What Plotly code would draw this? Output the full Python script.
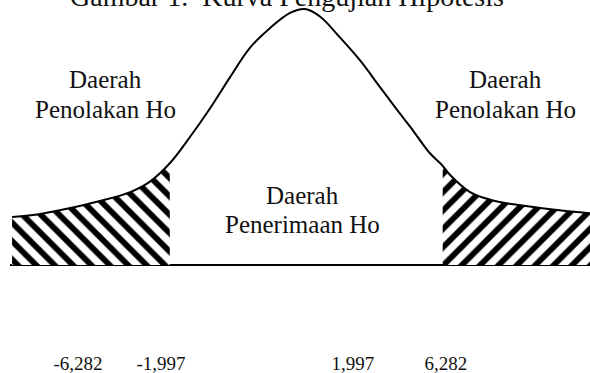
import plotly.graph_objects as go

# bell curve (x in std units, y as density)
curve_x = [-4.04, -3.75, -3.28, -2.82, -2.40, -2.13, -1.85, -1.57, -1.29, -1.01,
           -0.74, -0.46, -0.18, 0.03, 0.24, 0.51, 0.79, 1.07, 1.35, 1.49,
           1.76, 1.94, 2.04, 2.32, 2.60, 2.97, 3.53, 3.99]
curve_y = [0.075, 0.078, 0.088, 0.100, 0.114, 0.130, 0.159, 0.200, 0.245, 0.294,
           0.339, 0.370, 0.394, 0.400, 0.388, 0.356, 0.320, 0.278, 0.236, 0.216,
           0.175, 0.155, 0.141, 0.114, 0.102, 0.094, 0.086, 0.081]

left_cut = -1.85
right_cut = 1.94

tick_pos = [-3.125, -1.972, 0.694, 1.986]
tick_text = ["-6,282", "-1,997", "1,997", "6,282"]

TITLE = "Gambar 1.  Kurva Pengujian Hipotesis"
FONT = "Liberation Serif"


def main() -> None:
    left = [(x, y) for x, y in zip(curve_x, curve_y) if x <= left_cut]
    right = [(x, y) for x, y in zip(curve_x, curve_y) if x >= right_cut]

    fig = go.Figure()
    for pts, shape in ((left, "\\"), (right, "/")):
        fig.add_trace(go.Scatter(
            x=[p[0] for p in pts], y=[p[1] for p in pts],
            mode="lines", fill="tozeroy", fillcolor="rgba(255,255,255,1)",
            line=dict(width=0, color="black", shape="spline", smoothing=1.0),
            fillpattern=dict(shape=shape, fgcolor="black", fgopacity=1,
                             bgcolor="white", size=13, solidity=0.45),
            hoverinfo="skip",
        ))

    fig.add_trace(go.Scatter(
        x=curve_x, y=curve_y, mode="lines",
        line=dict(color="black", width=2, shape="spline", smoothing=1.0),
        hoverinfo="skip",
    ))

    labels = [
        (-2.74, 0.290, "Daerah"), (-2.74, 0.243, "Penolakan Ho"),
        (2.81, 0.290, "Daerah"), (2.81, 0.243, "Penolakan Ho"),
        (0.0, 0.109, "Daerah"), (0.0, 0.063, "Penerimaan Ho"),
    ]
    for x, y, t in labels:
        fig.add_annotation(x=x, y=y, text=t, showarrow=False,
                           xanchor="center", yanchor="middle",
                           font=dict(family=FONT, size=25, color="#111"))

    fig.add_annotation(x=-0.22, xref="x", y=1.0097, yref="paper", text=TITLE,
                       showarrow=False, xanchor="center", yanchor="middle",
                       font=dict(family=FONT, size=28, color="#111"))

    fig.update_layout(
        width=590, height=373,
        margin=dict(l=10, r=0, t=0, b=23),
        paper_bgcolor="white", plot_bgcolor="white",
        showlegend=False,
        xaxis=dict(range=[-4.069, 3.986], showgrid=False, zeroline=False,
                   showline=False, ticks="", tickvals=tick_pos,
                   ticktext=tick_text,
                   tickfont=dict(family=FONT, size=19, color="#111")),
        yaxis=dict(range=[-0.1328, 0.4141], showgrid=False, zeroline=True,
                   zerolinecolor="black", zerolinewidth=2,
                   showticklabels=False, showline=False),
    )
    # browser default body margin would push the chart 8px off
    fig.write_html("out.html", config={"displayModeBar": False},
                   post_script="document.body.style.margin='0';"
                               "document.body.style.overflow='hidden';")


if __name__ == "__main__":
    main()
